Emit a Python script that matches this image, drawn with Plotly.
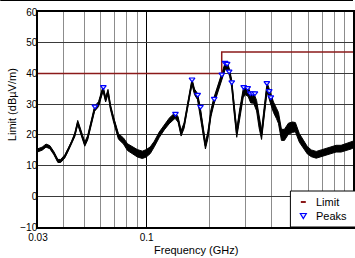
import math
import plotly.graph_objects as go

# ---- data ----
freq_ghz = [0.0300, 0.0314, 0.0328, 0.0342, 0.0358, 0.0374, 0.0386, 0.0404, 0.0418, 0.0436,
            0.0451, 0.0466, 0.0482, 0.0504, 0.0520, 0.0538, 0.0562, 0.0587, 0.0600, 0.0617,
            0.0635, 0.0652, 0.0670, 0.0693, 0.0732, 0.0774, 0.0809, 0.0854, 0.0903, 0.0954,
            0.0997, 0.1042, 0.1089, 0.1150, 0.1216, 0.1284, 0.1328, 0.1372, 0.1418, 0.1466,
            0.1515, 0.1566, 0.1619, 0.1655, 0.1701, 0.1758, 0.1807, 0.1858, 0.1920, 0.1974,
            0.2040, 0.2109, 0.2180, 0.2253, 0.2303, 0.2393, 0.2461, 0.2515, 0.2571, 0.2643,
            0.2717, 0.2808, 0.2918, 0.2984, 0.3084, 0.3171, 0.3277, 0.3386, 0.3480, 0.3578,
            0.3677, 0.3802, 0.3895, 0.3964, 0.4083, 0.4220, 0.4315, 0.4460, 0.4610, 0.4818,
            0.5036, 0.5205, 0.5440, 0.5685, 0.5942, 0.6208, 0.6558, 0.6929, 0.7325, 0.7738,
            0.8175, 0.8640, 0.9129, 0.9647, 1.0000]

level_db = [15, 15.5, 16.5, 16, 14, 11.5, 11.5, 13, 15, 17.5,
            20, 24, 21, 17, 19, 23, 28.5, 30, 32, 35,
            31.5, 34, 29, 25, 19.5, 18, 16, 15, 14, 13.5,
            14, 15, 17, 20, 22.5, 24.5, 25.5, 26.3, 25, 20.5,
            23, 28, 34, 37.3, 34, 32.5, 28.5, 23, 16.5, 20,
            27, 31, 34, 37.5, 39, 42.5, 42, 40, 36.5, 28,
            20.5, 27, 33.5, 34.5, 34, 32, 32, 29.5, 24, 20,
            27, 35.5, 33.5, 31.5, 29, 27, 25.5, 20, 20, 22,
            22.5, 22.5, 19, 17, 15, 14, 13.5, 14, 14.5, 15,
            15.5, 15.5, 16, 16.5, 17]

# half-thickness of the noisy trace band (dB)
band_db = [0.5, 0.5, 0.5, 0.5, 0.5, 0.5, 0.5, 0.5, 0.5, 0.5,
           0.6, 0.7, 0.7, 0.7, 0.7, 0.7, 0.8, 0.8, 0.8, 0.8,
           0.8, 0.8, 0.8, 0.8, 0.9, 1.0, 1.1, 1.2, 1.2, 1.2,
           1.2, 1.1, 0.9, 0.9, 0.9, 0.9, 0.9, 0.9, 0.9, 0.9,
           0.9, 0.9, 0.9, 0.9, 0.9, 1.0, 1.1, 1.1, 1.1, 1.1,
           1.1, 1.1, 1.1, 1.1, 1.1, 1.1, 1.1, 1.1, 1.2, 1.3,
           1.3, 1.4, 1.4, 1.4, 1.5, 1.6, 1.7, 1.7, 1.7, 1.5,
           1.5, 1.5, 1.5, 1.6, 1.7, 1.7, 1.8, 1.8, 1.8, 1.8,
           1.7, 1.5, 1.4, 1.3, 1.2, 1.1, 1.1, 1.1, 1.1, 1.1,
           1.1, 1.1, 1.1, 1.1, 1.1]

peak_freq = [0.0564, 0.0619, 0.1377, 0.1655, 0.1762, 0.1817, 0.2116, 0.2303, 0.2389, 0.2442,
             0.2497, 0.2571, 0.2934, 0.3067, 0.3159, 0.3240, 0.3323, 0.3794, 0.3895, 0.3964]
peak_db = [29.3, 35.6, 26.9, 38.1, 33.1, 29.2, 31.8, 39.7, 43.5, 43.2,
           40.7, 37.2, 35.6, 35.3, 33.6, 33.6, 33.6, 36.9, 34.3, 32.3]

limit_freq = [0.03, 0.23, 1.0]
limit_db = [40, 47, 47]

legend_labels = ["Limit", "Peaks"]

x_tick_vals = [0.03, 0.1]
x_tick_text = ["0.03", "0.1"]
x_minor_vals = [0.04, 0.05, 0.06, 0.07, 0.08, 0.09,
                0.2, 0.3, 0.4, 0.5, 0.6, 0.7, 0.8, 0.9]

LIMIT_COLOR = "#8b1a1a"
PEAK_LINE = "#0000ff"
PEAK_FILL = "#e4eaff"

# ---- figure ----
upper = [l + b for l, b in zip(level_db, band_db)]
lower = [l - b for l, b in zip(level_db, band_db)]

fig = go.Figure()
fig.add_trace(go.Scatter(
    x=freq_ghz + freq_ghz[::-1], y=upper + lower[::-1],
    mode="lines", fill="toself", fillcolor="black",
    line=dict(color="black", width=1), showlegend=False, hoverinfo="skip"))
fig.add_trace(go.Scatter(
    x=freq_ghz, y=level_db, mode="lines",
    line=dict(color="black", width=1.5), showlegend=False))
fig.add_trace(go.Scatter(
    x=limit_freq, y=limit_db, mode="lines", name=legend_labels[0],
    line=dict(color=LIMIT_COLOR, width=1.5, shape="hv"), showlegend=False))
fig.add_trace(go.Scatter(
    x=peak_freq, y=peak_db, mode="markers", name=legend_labels[1],
    marker=dict(symbol="triangle-down", size=5, color=PEAK_FILL,
                line=dict(color=PEAK_LINE, width=1.2)), showlegend=False))

W, H = 355, 258
ml, mt, mb = 38, 12, 31
plot_w = W - ml
plot_h = H - mt - mb
decade_px = 209.0
x0 = math.log10(0.03)
x1 = x0 + plot_w / decade_px


def px(xp):
    return (xp - ml) / plot_w


def py(yp):
    return (H - mb - yp) / plot_h


font = "Liberation Sans, Arial, sans-serif"

# hand-built legend box (matches reference's compact legend)
leg_left, leg_top, leg_bottom = 292, 191, 227
sym_x, text_x = 305, 316
row_y = [202, 216]
shapes = [
    dict(type="line", xref="paper", yref="paper",
         x0=-ml / plot_w, x1=1, y0=py(0.5), y1=py(0.5),
         line=dict(color="black", width=1)),
    dict(type="rect", xref="paper", yref="paper",
         x0=px(leg_left), x1=px(W + 10), y0=py(leg_bottom), y1=py(leg_top),
         fillcolor="white", line=dict(color="black", width=1), layer="above"),
    dict(type="line", xref="paper", yref="paper",
         x0=px(sym_x - 2.5), x1=px(sym_x + 2.5), y0=py(row_y[0]), y1=py(row_y[0]),
         line=dict(color=LIMIT_COLOR, width=2), layer="above"),
    dict(type="path", xref="paper", yref="paper",
         path="M {a},{b} L {c},{b} L {d},{e} Z".format(
             a=px(sym_x - 3), c=px(sym_x + 3), b=py(row_y[1] - 2.5),
             d=px(sym_x), e=py(row_y[1] + 2.5)),
         fillcolor=PEAK_FILL, line=dict(color=PEAK_LINE, width=1.2), layer="above"),
]

annotations = [
    dict(text="Frequency (GHz)", xref="paper", yref="paper",
         x=0.5, y=py(250), xanchor="center", yanchor="middle",
         showarrow=False, font=dict(size=11)),
    dict(text="Limit (dBµV/m)", xref="paper", yref="paper",
         x=px(12), y=py(105), xanchor="center", yanchor="middle", textangle=-90,
         showarrow=False, font=dict(size=11)),
]
for lab, ry in zip(legend_labels, row_y):
    annotations.append(dict(text=lab, xref="paper", yref="paper",
                            x=px(text_x), y=py(ry), xanchor="left", yanchor="middle",
                            showarrow=False, font=dict(size=11)))

fig.update_layout(
    width=W, height=H,
    margin=dict(l=ml, r=0, t=mt, b=mb, pad=0),
    paper_bgcolor="white", plot_bgcolor="white",
    font=dict(family=font, size=10, color="black"),
    showlegend=False,
    xaxis=dict(type="log", range=[x0, x1],
               tickvals=x_tick_vals, ticktext=x_tick_text,
               showgrid=True, gridcolor="black", gridwidth=1,
               minor=dict(tickvals=x_minor_vals, showgrid=True,
                          gridcolor="#8c8c8c", gridwidth=1, ticks=""),
               ticks="", ticklen=0, showline=True, linecolor="black", linewidth=1.5,
               mirror=True, zeroline=False,
               tickfont=dict(size=10)),
    yaxis=dict(range=[-10, 60], dtick=10, tick0=0,
               showgrid=True, gridcolor="#3a3a3a", gridwidth=1,
               ticks="", ticklen=0, ticklabelstandoff=-3,
               showline=True, linecolor="black", linewidth=1.5,
               mirror=True, zeroline=False,
               tickfont=dict(size=10)),
    annotations=annotations,
    shapes=shapes,
)

fig.write_html("out.html", config={"displayModeBar": False},
               post_script="document.body.style.margin='0';")
